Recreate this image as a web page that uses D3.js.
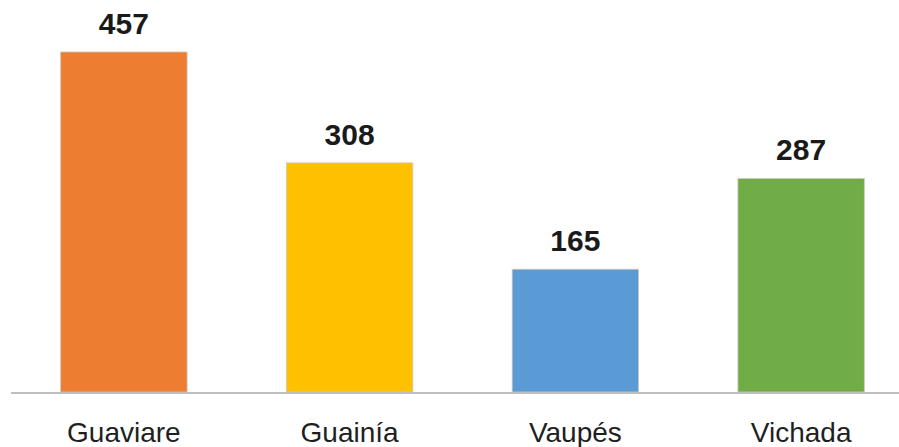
<!DOCTYPE html>
<html>
<head>
<meta charset="utf-8">
<script src="https://cdn.jsdelivr.net/npm/d3@7"></script>
<style>
  body { margin: 0; background: #fff; }
  text { font-family: "Liberation Sans", Arial, sans-serif; }
</style>
</head>
<body>
<svg width="899" height="447"></svg>
<script>
// chart data
const categories = ["Guaviare", "Guainía", "Vaupés", "Vichada"];
const values = [457, 308, 165, 287];
const colors = ["#ED7D31", "#FFC000", "#5B9BD5", "#70AD47"];

const svg = d3.select("svg");
const width = 899;

// set the ranges (plot area runs a little past the right edge)
let x = d3.scaleBand().domain(categories).range([11, 914]).paddingInner(0.44).paddingOuter(0.22);
let y = d3.scaleLinear().domain([0, 500]).range([392, 20]);

// bars
svg.selectAll(".bar")
    .data(categories)
    .enter().append("rect")
    .attr("class", "bar")
    .attr("x", d => x(d))
    .attr("width", x.bandwidth())
    .attr("y", (d, i) => y(values[i]))
    .attr("height", (d, i) => y(0) - y(values[i]))
    .attr("fill", (d, i) => colors[i])
    .attr("stroke", "#d0c8c0")
    .attr("stroke-width", 0.8);

// value labels
svg.selectAll(".val")
    .data(categories)
    .enter().append("text")
    .attr("class", "val")
    .attr("x", d => x(d) + x.bandwidth() / 2)
    .attr("y", (d, i) => y(values[i]) - 18)
    .attr("text-anchor", "middle")
    .attr("font-size", 30)
    .attr("font-weight", "bold")
    .attr("fill", "#1a1a1a")
    .text((d, i) => values[i]);

// baseline
svg.append("line")
    .attr("x1", 11).attr("x2", width)
    .attr("y1", y(0) + 1).attr("y2", y(0) + 1)
    .attr("stroke", "#bfbfbf")
    .attr("stroke-width", 2);

// x axis labels
const xAxis = svg.append("g")
    .attr("transform", "translate(0," + (y(0) + 1) + ")")
    .call(d3.axisBottom(x).tickSize(0).tickPadding(29));
xAxis.select(".domain").remove();
xAxis.selectAll("text")
    .attr("font-size", 28)
    .attr("font-family", "Liberation Sans, Arial, sans-serif")
    .attr("fill", "#1f1f1f");
</script>
</body>
</html>
